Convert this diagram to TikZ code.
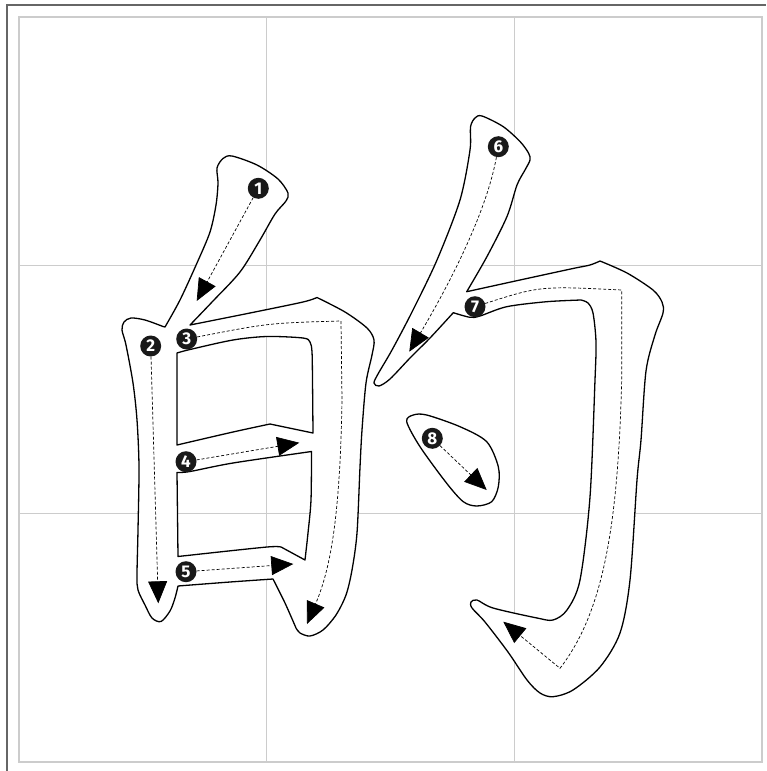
\documentclass[tikz,border=0pt]{standalone}
\usepackage{fontspec}
\setsansfont{Fira Sans}
\usetikzlibrary{arrows.meta}

\begin{document}
\begin{tikzpicture}[x=1pt, y=-1pt, >={Triangle[length=22pt, width=19pt]},
    grid/.style={draw=black!20, line width=1.3pt},
    glyph/.style={draw=black, line width=1.3pt, fill=white, even odd rule, line join=round},
    guide/.style={->, line width=0.7pt, dash pattern=on 3pt off 2pt},
    num/.style={circle, fill=black!90, text=white, inner sep=0pt, minimum size=21pt,
        font=\sffamily\bfseries\fontsize{17}{17}\selectfont}]

    \useasboundingbox (0,0) rectangle (766,771);
    \draw[draw=black!60, line width=2pt] (7,771) -- (7,5) -- (766,5);
    \draw[grid] (19,17) rectangle (762,762);
    \draw[grid] (266.7,17) -- (266.7,762) (514.3,17) -- (514.3,762)
        (19,265.3) -- (762,265.3) (19,513.7) -- (762,513.7);

    \draw[glyph]
        plot[smooth] coordinates {(165,327) (180,300) (197,263) (210,232) (216,205) (218,183) (217,168) (223,158.5) (232,156) (257,165) (278,179) (288,193) (286,201) (275,214) (260,240) (240,272) (213,301) (190,325)}
        -- plot[smooth] coordinates {(190,325) (250,313) (303,302) (317,297.5)}
        -- plot[smooth] coordinates {(317,297.5) (345,312) (367,328) (374,340) (372,355) (366,383) (362,430) (360,467) (357,533) (352,570) (346,595) (336,615) (323,630) (310,636) (300,633) (296,628)}
        -- plot[smooth] coordinates {(296,628) (285,603) (273,579)}
        -- plot[smooth] coordinates {(273,579) (230,582) (178,586)}
        -- plot[smooth] coordinates {(178,586) (175,598) (170,611) (161,621.5) (152,618) (145,605) (138,590) (137,575) (138,530) (139,467) (137,420) (133,383) (126,345) (122,330) (124,322) (131,318) (145,320) (163,326.5)}
        -- cycle
        plot[smooth] coordinates {(177,353) (190,349.5) (233,340) (267,336.5) (303,338) (310,342) (312,352) (312.5,380) (313,433)}
        -- (270,424) -- plot[smooth] coordinates {(270,424) (233,432) (177,445)} -- cycle
        plot[smooth] coordinates {(177,472.5) (190,471.5) (233,463) (311.5,451.5)}
        -- plot[smooth] coordinates {(311.5,451.5) (311,500) (308,533) (305,560)}
        -- (282,547.5) -- plot[smooth] coordinates {(282,547.5) (267,547) (178,556.5)} -- cycle;

    \draw[glyph]
        plot[smooth] coordinates {(453.3,312.7) (430,338) (410,358) (390,379) (379,386) (374,383) (378,374) (392,350) (412,312) (437,260) (460,200) (470,150) (470.5,127) (475,118) (482,116) (503,126.5) (520,141.5) (528.5,153) (530,160) (525,170) (517,185) (507,216.5) (487,256.5) (466.7,291.7)}
        -- plot[smooth] coordinates {(466.7,291.7) (520,280) (573,268.5) (590,265) (600,261)}
        -- plot[smooth] coordinates {(600,261) (627,273) (653,290) (662,302) (663,313) (655,335) (646,371) (641,440) (637,480) (630,580) (620,633) (600,667) (573,690) (553,696.7) (540,693) (527,680) (508,652) (485,622) (472,608) (471,602) (477,600) (493,608) (537,618) (553,620) (567,610) (580,580) (590,497) (595,380) (596,342) (593,313) (588,303) (581,300)}
        -- plot[smooth] coordinates {(581,300) (546.7,301.7) (506.7,306.7) (480,316) (470,317.3) (453.3,312.7)}
        -- cycle;

    \draw[glyph] plot[smooth cycle] coordinates {(406.7,421.7) (413.3,415) (426.7,415) (460,426.7) (486.7,441.7) (498.3,466.7) (498.3,486.7) (491.7,501.7) (476.7,506) (463.3,501.7) (446.7,483.3) (420,446.7)};

    \node[num] (n1) at (258.3,188.3) {1};
    \node[num] (n2) at (150.7,346) {2};
    \node[num] (n3) at (186.7,339) {3};
    \node[num] (n4) at (186,461.7) {4};
    \node[num] (n5) at (186,571.7) {5};
    \node[num] (n6) at (498.3,146.7) {6};
    \node[num] (n7) at (475,306.7) {7};
    \node[num] (n8) at (432.3,438.3) {8};

    \coordinate (e1) at (196.7,301);
    \coordinate (e2) at (158.3,603.3);
    \coordinate (e3) at (307,624);
    \coordinate (e4) at (299.3,442.7);
    \coordinate (e5) at (293.3,564);
    \coordinate (e6) at (409.3,351.7);
    \coordinate (e7) at (503.3,621.7);
    \coordinate (e8) at (486.7,490);

    \draw[guide] (n1) -- (e1);
    \draw[guide] (n2) -- (e2);
    \draw[guide] (n3) .. controls (269,323) .. (341,321) -- (342,400) .. controls (340,520) and (330,570) .. (e3);
    \draw[guide] (n4) -- (e4);
    \draw[guide] (n5) -- (e5);
    \draw[guide] (n6) .. controls (485,220) and (440,300) .. (e6);
    \draw[guide] (n7) .. controls (540,286) .. (621.7,290) -- (621.7,380) .. controls (618,520) and (605,610) .. (560,668.3) -- (e7);
    \draw[guide] (n8) -- (e8);
\end{tikzpicture}
\end{document}
